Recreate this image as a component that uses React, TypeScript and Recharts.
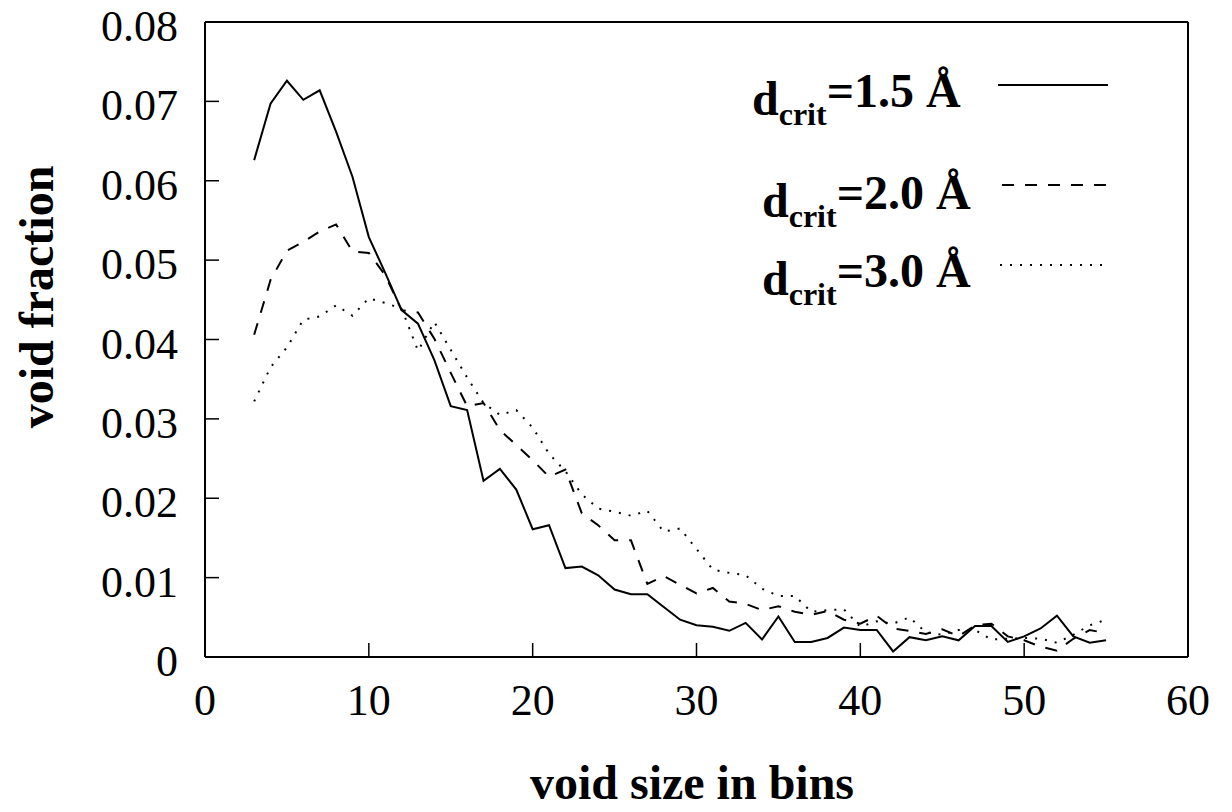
import { LineChart, Line, XAxis, YAxis, Legend } from "recharts";

const bins = [
  3, 4, 5, 6, 7, 8, 9, 10, 11, 12, 13, 14, 15, 16, 17, 18, 19, 20, 21, 22,
  23, 24, 25, 26, 27, 28, 29, 30, 31, 32, 33, 34, 35, 36, 37, 38, 39, 40, 41,
  42, 43, 44, 45, 46, 47, 48, 49, 50, 51, 52, 53, 54, 55,
];

// d_crit = 1.5 Å (solid)
const fraction15 = [
  0.0626, 0.0697, 0.0726, 0.0702, 0.0714, 0.0662, 0.0605, 0.0529, 0.0484,
  0.0437, 0.042, 0.0374, 0.0316, 0.0311, 0.0222, 0.0237, 0.0211, 0.0161,
  0.0166, 0.0112, 0.0114, 0.0103, 0.0085, 0.0079, 0.0079, 0.0063, 0.0047,
  0.004, 0.0038, 0.0033, 0.0043, 0.0022, 0.0051, 0.0019, 0.0019, 0.0024,
  0.0037, 0.0034, 0.0034, 0.0007, 0.0025, 0.0021, 0.0026, 0.0021, 0.0039,
  0.0039, 0.0019, 0.0026, 0.0036, 0.0052, 0.0026, 0.0018, 0.0021,
];

// d_crit = 2.0 Å (dashed)
const fraction20 = [
  0.0406, 0.0475, 0.0512, 0.0523, 0.0536, 0.0545, 0.0511, 0.0509, 0.0481,
  0.0437, 0.0434, 0.0401, 0.0358, 0.0316, 0.032, 0.0286, 0.0267, 0.0248,
  0.0227, 0.0236, 0.0181, 0.0166, 0.0147, 0.0147, 0.0092, 0.0102, 0.0091,
  0.008, 0.0087, 0.007, 0.0067, 0.0059, 0.0064, 0.0057, 0.0053, 0.0058,
  0.0047, 0.0042, 0.0052, 0.0036, 0.0033, 0.0029, 0.0035, 0.0026, 0.004,
  0.0042, 0.0026, 0.0021, 0.0013, 0.0008, 0.0023, 0.0034, 0.003,
];

// d_crit = 3.0 Å (dotted)
const fraction30 = [
  0.0322, 0.0365, 0.039, 0.0425, 0.0429, 0.0443, 0.043, 0.0452, 0.0446,
  0.0439, 0.0386, 0.0422, 0.0387, 0.0352, 0.032, 0.0305, 0.0311, 0.0289,
  0.0256, 0.0234, 0.0205, 0.0187, 0.0183, 0.0178, 0.0184, 0.0158, 0.0162,
  0.0136, 0.011, 0.0106, 0.0103, 0.0086, 0.0077, 0.0077, 0.0057, 0.0059,
  0.006, 0.0038, 0.0045, 0.0042, 0.005, 0.0031, 0.0028, 0.0034, 0.0034,
  0.0022, 0.0023, 0.0024, 0.0023, 0.0018, 0.0028, 0.004, 0.0047,
];

const xTicks = [0, 10, 20, 30, 40, 50, 60];
const yTicks = [0, 0.01, 0.02, 0.03, 0.04, 0.05, 0.06, 0.07, 0.08];
const yTickLabels = ["0", "0.01", "0.02", "0.03", "0.04", "0.05", "0.06", "0.07", "0.08"];
const seriesKeys = ["d15", "d20", "d30"];
const seriesValues = ["1.5", "2.0", "3.0"];

const data = bins.map((bin, i) => ({
  bin,
  d15: fraction15[i],
  d20: fraction20[i],
  d30: fraction30[i],
}));

const FONT = "'Liberation Serif', 'Times New Roman', serif";
const dashes = [undefined, "12 11", "2 8"];

// legend placement (text start, baselines, sample line)
const legendPos = [
  { x: 752, y: 115, lineY: 85, x1: 998, x2: 1108 },
  { x: 762, y: 217, lineY: 185, x1: 1002, x2: 1110 },
  { x: 762, y: 295, lineY: 265, x1: 1000, x2: 1102 },
];

function LegendBox() {
  return (
    <svg
      width={1232}
      height={812}
      style={{ position: "absolute", left: 0, top: 0, pointerEvents: "none" }}
    >
      {seriesValues.map((v, i) => {
        const p = legendPos[i];
        return (
          <g key={v}>
            <text x={p.x} y={p.y} fontFamily={FONT} fontWeight="bold" fontSize={48} fill="#000">
              <tspan>d</tspan>
              <tspan dy={10} fontSize={32}>crit</tspan>
              <tspan dy={-18} fontSize={48}>{`=${v} Å`}</tspan>
            </text>
            <line
              x1={p.x1}
              x2={p.x2}
              y1={p.lineY}
              y2={p.lineY}
              stroke="#000"
              strokeWidth={2}
              strokeDasharray={dashes[i]}
            />
          </g>
        );
      })}
    </svg>
  );
}

function XTick(props: any) {
  return (
    <text x={props.x} y={props.y} textAnchor="middle" fontFamily={FONT} fontSize={44} fill="#000">
      {props.payload.value}
    </text>
  );
}

function YTick(props: any) {
  const idx = yTicks.indexOf(props.payload.value);
  return (
    <text x={props.x} y={props.y + 19} textAnchor="end" fontFamily={FONT} fontSize={44} fill="#000">
      {idx >= 0 ? yTickLabels[idx] : props.payload.value}
    </text>
  );
}

export default function App() {
  return (
    <div style={{ position: "absolute", left: 0, top: 0, background: "#fff" }}>
      <LineChart
        width={1232}
        height={812}
        data={data}
        margin={{ top: 21, right: 43, bottom: 55, left: 85 }}
      >
        <XAxis
          dataKey="bin"
          type="number"
          domain={[0, 60]}
          ticks={xTicks}
          height={100}
          tickSize={-14}
          tickMargin={72}
          tick={<XTick />}
          axisLine={{ stroke: "#000", strokeWidth: 2 }}
          tickLine={{ stroke: "#000", strokeWidth: 1.5 }}
          label={{
            content: () => (
              <text x={692} y={799} textAnchor="middle" fontFamily={FONT} fontWeight="bold" fontSize={48} fill="#000">
                void size in bins
              </text>
            ),
          }}
        />
        <XAxis
          xAxisId="top"
          orientation="top"
          dataKey="bin"
          type="number"
          domain={[0, 60]}
          ticks={xTicks}
          height={1}
          tickSize={-14}
          tick={false}
          axisLine={{ stroke: "#000", strokeWidth: 2 }}
          tickLine={{ stroke: "#000", strokeWidth: 1.5 }}
        />
        <YAxis
          type="number"
          domain={[0, 0.08]}
          ticks={yTicks}
          width={120}
          tickSize={-14}
          tickMargin={41}
          tick={<YTick />}
          axisLine={{ stroke: "#000", strokeWidth: 2 }}
          tickLine={{ stroke: "#000", strokeWidth: 1.5 }}
          label={{
            content: () => (
              <text
                x={53}
                y={297}
                transform="rotate(-90 53 297)"
                textAnchor="middle"
                fontFamily={FONT}
                fontWeight="bold"
                fontSize={48}
                fill="#000"
              >
                void fraction
              </text>
            ),
          }}
        />
        <YAxis
          yAxisId="right"
          orientation="right"
          type="number"
          domain={[0, 0.08]}
          ticks={yTicks}
          width={1}
          tickSize={-14}
          tick={false}
          axisLine={{ stroke: "#000", strokeWidth: 2 }}
          tickLine={{ stroke: "#000", strokeWidth: 1.5 }}
        />
        <Legend
          layout="horizontal"
          align="center"
          verticalAlign="middle"
          wrapperStyle={{ left: 0, top: 0, width: 1232, height: 812 }}
          content={() => <LegendBox />}
        />
        {seriesKeys.map((k, i) => (
          <Line
            key={k}
            dataKey={k}
            name={`d_crit=${seriesValues[i]} Å`}
            type="linear"
            stroke="#000"
            strokeWidth={2}
            strokeDasharray={dashes[i]}
            dot={false}
            activeDot={false}
            isAnimationActive={false}
          />
        ))}
      </LineChart>
    </div>
  );
}
